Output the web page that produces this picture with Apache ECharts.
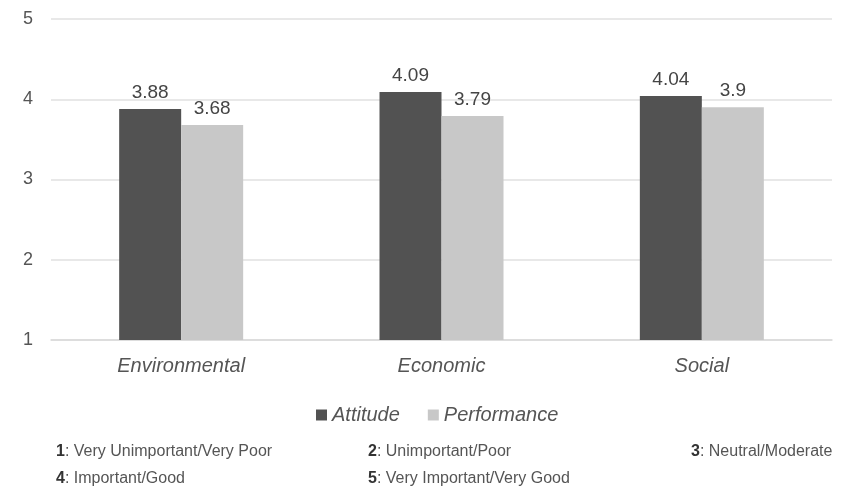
<!DOCTYPE html>
<html>
<head>
<meta charset="utf-8">
<script src="https://cdn.jsdelivr.net/npm/echarts@6/dist/echarts.min.js"></script>
<style>
  html, body { margin: 0; padding: 0; background: #fff; }
  #chart { width: 842px; height: 493px; }
</style>
</head>
<body>
<div id="chart"></div>
<script>
const categories = ['Environmental', 'Economic', 'Social'];
const attitude = [3.88, 4.09, 4.04];
const performance = [3.68, 3.79, 3.9];
const yTicks = [1, 2, 3, 4, 5];
const notesRow1 = [['1', 'Very Unimportant/Very Poor'], ['2', 'Unimportant/Poor'], ['3', 'Neutral/Moderate']];
const notesRow2 = [['4', 'Important/Good'], ['5', 'Very Important/Very Good']];

const chart = echarts.init(document.getElementById('chart'));
const font = 'Liberation Sans, Arial, sans-serif';

// notas al pie
const noteCols = [56, 368, 691];
const notes = [];
[notesRow1, notesRow2].forEach(function(row, r) {
  row.forEach(function(n, i) {
    notes.push({
      type: 'text',
      left: noteCols[i],
      top: 444 + r * 27,
      style: {
        text: '{b|' + n[0] + '}{n|: ' + n[1] + '}',
        rich: {
          b: { fontWeight: 'bold', fontSize: 16, fontFamily: font, fill: '#333' },
          n: { fontSize: 16, fontFamily: font, fill: '#555' }
        }
      }
    });
  });
});

const option = {
  animation: false,
  grid: { left: 51, right: 10, top: 19, bottom: 153 },
  legend: {
    data: ['Attitude', 'Performance'],
    left: 311,
    top: 400,
    icon: 'rect',
    itemWidth: 11,
    itemHeight: 11,
    itemGap: 28,
    textStyle: { fontSize: 20, fontStyle: 'italic', color: '#555', fontFamily: font }
  },
  xAxis: {
    type: 'category',
    data: categories,
    axisLine: { show: true, lineStyle: { color: '#d9d9d9', width: 1.5 } },
    axisTick: { show: false },
    axisLabel: { fontSize: 20, fontStyle: 'italic', color: '#555', margin: 16, fontFamily: font }
  },
  yAxis: {
    type: 'value',
    min: 1,
    max: 5,
    interval: 1,
    axisLine: { show: false },
    axisTick: { show: false },
    axisLabel: { fontSize: 18, color: '#555', margin: 18, fontFamily: font },
    splitLine: { lineStyle: { color: '#e0e0e0', width: 1.5 } }
  },
  series: [
    {
      name: 'Attitude',
      type: 'bar',
      data: attitude,
      barWidth: 62,
      barGap: '0%',
      itemStyle: { color: '#525252' },
      label: { show: true, position: 'top', fontSize: 19, color: '#444', distance: 7, fontFamily: font }
    },
    {
      name: 'Performance',
      type: 'bar',
      data: performance,
      barWidth: 62,
      itemStyle: { color: '#c8c8c8' },
      label: { show: true, position: 'top', fontSize: 19, color: '#444', distance: 7, fontFamily: font }
    }
  ],
  graphic: notes
};
chart.setOption(option);
</script>
</body>
</html>
